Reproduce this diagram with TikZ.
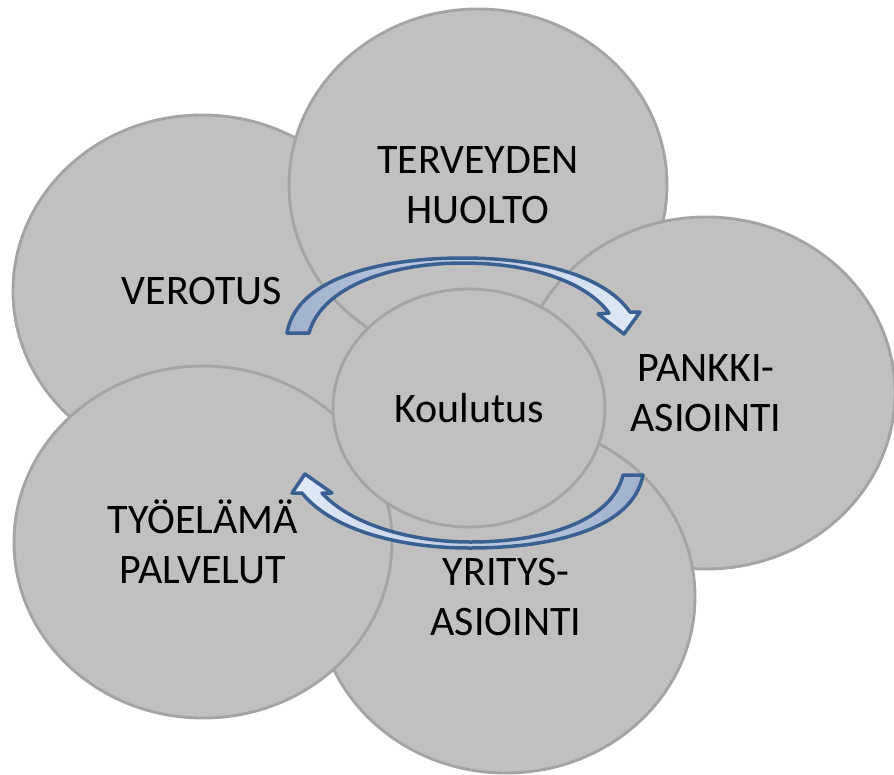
\documentclass[tikz,border=0pt]{standalone}
\usepackage{fontspec}
\setmainfont{Carlito}
\usetikzlibrary{shapes.geometric}

\definecolor{bubblefill}{RGB}{192,192,192}
\definecolor{bubbleline}{RGB}{164,164,164}
\definecolor{arrowline}{RGB}{58,95,145}
\definecolor{arrowdark}{RGB}{160,177,205}
\definecolor{arrowlight}{RGB}{224,234,248}

\begin{document}
\begin{tikzpicture}[x=1pt,y=-1pt,
  bubble/.style={ellipse, draw=bubbleline, fill=bubblefill, line width=2.9pt,
    minimum width=378pt, minimum height=352pt, inner sep=0pt, align=center,
    font=\fontsize{42}{50}\selectfont},
  core/.style={bubble, minimum width=272pt, minimum height=238pt},
  blockarrow/.style={draw=arrowline, line width=3.5pt, line join=round}]
\useasboundingbox (0,0) rectangle (894,774);

% outer ring of topics, back to front
\node[bubble] (verotus) at (202,291) {VEROTUS};
\node[bubble] (terveys) at (478,185) {TERVEYDEN\\HUOLTO};
\node[bubble] (pankki)  at (706,393) {PANKKI-\\ASIOINTI};
\node[bubble] (yritys)  at (506,597) {YRITYS-\\ASIOINTI};
\node[bubble] (tyo)     at (203,542) {TYÖELÄMÄ\\PALVELUT};

% centre topic
\node[core] (koulutus) at (469,408) {Koulutus};

% upper curved arrow, pointing right
\path[blockarrow, left color=arrowdark, right color=arrowlight]
  (287,333) .. controls (297,276) and (385,258) .. (463,258)
  .. controls (540,258) and (605,276) .. (630,312)
  -- (640,312) -- (624,334) -- (598,314) -- (609,313)
  .. controls (585,281) and (530,263) .. (463,263)
  .. controls (392,263) and (322,286) .. (309,333) -- cycle;

% lower curved arrow, pointing left
\path[blockarrow, left color=arrowlight, right color=arrowdark]
  (643,475) .. controls (633,528) and (555,548) .. (470,548)
  .. controls (395,548) and (330,528) .. (302,493)
  -- (292,493) -- (305,474) -- (332,493) -- (322,493)
  .. controls (350,524) and (410,542) .. (470,542)
  .. controls (548,542) and (612,520) .. (623,475) -- cycle;
\end{tikzpicture}
\end{document}
